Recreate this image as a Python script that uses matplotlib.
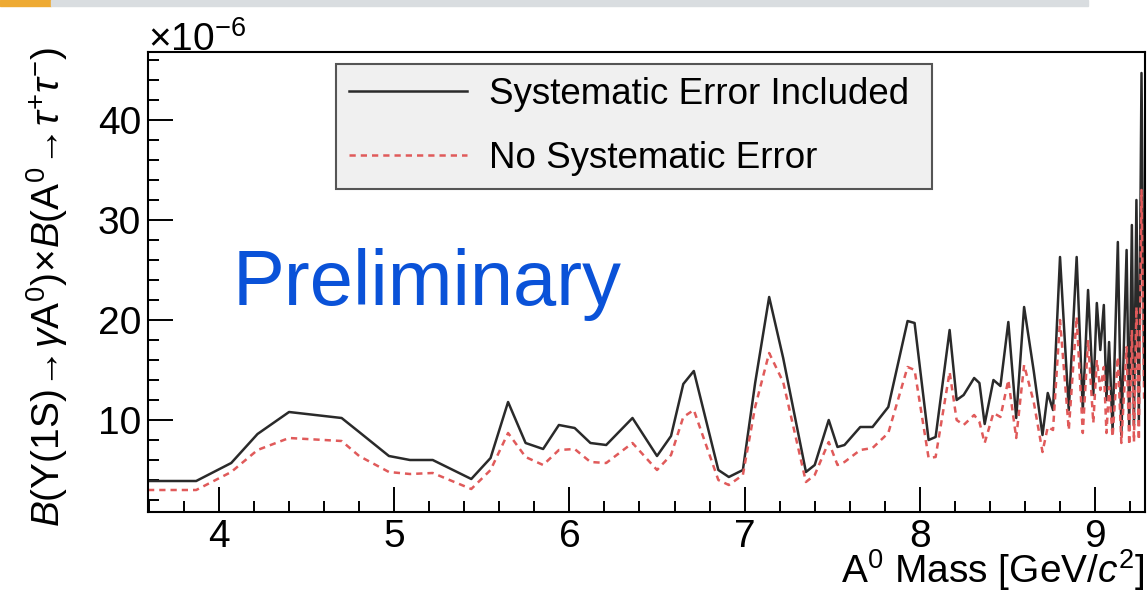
import matplotlib
matplotlib.use('Agg')
import matplotlib.pyplot as plt
from matplotlib.ticker import MultipleLocator
from matplotlib.patches import Rectangle

plt.rcParams['font.family'] = ['Liberation Sans', 'DejaVu Sans']
plt.rcParams['mathtext.fontset'] = 'custom'
plt.rcParams['mathtext.rm'] = 'Liberation Sans'
plt.rcParams['mathtext.it'] = 'Liberation Sans:italic'
plt.rcParams['mathtext.bf'] = 'Liberation Sans:bold'

# A0 mass [GeV/c^2]
mass = [3.595, 3.87, 4.07, 4.22, 4.40, 4.70, 4.80, 4.97, 5.09, 5.22,
        5.44, 5.55, 5.65, 5.75, 5.85, 5.94, 6.03, 6.12, 6.21, 6.36,
        6.50, 6.58, 6.65, 6.71, 6.85, 6.91, 6.99, 7.06, 7.14, 7.22,
        7.35, 7.40, 7.48, 7.53, 7.57, 7.66, 7.73, 7.82, 7.93, 7.97,
        8.05, 8.09, 8.17, 8.21, 8.25, 8.31, 8.34, 8.37, 8.42, 8.46,
        8.505, 8.55, 8.595, 8.65, 8.70, 8.73, 8.76, 8.80, 8.85, 8.895,
        8.93, 8.96, 8.99, 9.01, 9.03, 9.05, 9.065, 9.08, 9.10, 9.13,
        9.15, 9.18, 9.195, 9.21, 9.222, 9.236, 9.25, 9.265, 9.28]

# upper limits, units of 1e-6
sys_included = [3.9, 3.9, 5.7, 8.6, 10.8, 10.2, 8.8, 6.4, 6.0, 6.0,
                4.1, 6.2, 11.8, 7.7, 7.1, 9.5, 9.2, 7.7, 7.5, 10.2,
                6.4, 8.4, 13.6, 14.9, 5.0, 4.3, 5.0, 13.7, 22.3, 16.2,
                4.8, 5.5, 10.0, 7.3, 7.5, 9.3, 9.3, 11.3, 19.9, 19.7,
                8.0, 8.3, 19.0, 12.0, 12.5, 14.2, 13.7, 9.6, 14.0, 13.4,
                19.8, 10.2, 21.3, 14.9, 8.5, 12.7, 11.0, 26.3, 11.0, 26.3,
                11.0, 23.0, 12.5, 21.7, 17.0, 21.5, 12.0, 17.8, 9.0, 27.8,
                8.5, 27.0, 9.0, 29.5, 9.5, 32.0, 10.0, 44.7, 14.0]

no_sys = [3.0, 3.0, 4.8, 7.0, 8.2, 7.9, 6.4, 4.8, 4.6, 4.7,
          3.1, 5.0, 8.7, 6.3, 5.5, 7.0, 7.1, 5.8, 5.7, 7.7,
          5.0, 6.5, 10.3, 11.0, 4.0, 3.5, 4.5, 11.3, 16.7, 13.8,
          3.8, 4.5, 7.8, 5.5, 5.8, 7.0, 7.2, 8.7, 15.3, 15.0,
          6.2, 6.3, 14.8, 10.0, 9.5, 10.5, 9.8, 7.7, 10.7, 10.3,
          14.0, 8.2, 15.5, 11.8, 6.8, 9.3, 9.0, 20.0, 9.0, 20.3,
          8.7, 18.0, 9.7, 16.0, 13.0, 15.3, 8.7, 13.3, 8.3, 16.3,
          7.7, 17.3, 7.5, 19.0, 7.8, 21.3, 8.0, 33.0, 12.0]

labels = ['Systematic Error Included', 'No Systematic Error']

fig = plt.figure(figsize=(11.47, 5.93), dpi=100)

# slide header strip
fig.patches.append(Rectangle((0, 1 - 6 / 593), 51 / 1147, 6 / 593,
                             transform=fig.transFigure, color='#eeaa33', zorder=0))
fig.patches.append(Rectangle((51 / 1147, 1 - 6 / 593), 1037 / 1147, 6 / 593,
                             transform=fig.transFigure, color='#d9dde0', zorder=0))

ax = fig.add_axes([148 / 1147, 81 / 593, 997 / 1147, 460 / 593])

ax.plot(mass, sys_included, color='#2a2a2a', lw=1.8, label=labels[0])
ax.plot(mass, no_sys, color='#e05a5a', lw=1.8, ls=(0, (2.5, 2)), label=labels[1])

ax.set_xlim(3.595, 9.285)
ax.set_ylim(0.8, 46.8)

ax.xaxis.set_major_locator(MultipleLocator(1))
ax.xaxis.set_minor_locator(MultipleLocator(0.2))
ax.yaxis.set_major_locator(MultipleLocator(10))
ax.yaxis.set_minor_locator(MultipleLocator(2))
ax.tick_params(which='both', direction='in', width=1.4, labelsize=28, pad=5)
ax.tick_params(which='major', length=18)
ax.tick_params(which='minor', length=8)
for s in ax.spines.values():
    s.set_linewidth(1.5)

ax.text(0.0, 0.986, r'$\times10^{-6}$', transform=ax.transAxes, fontsize=28,
        ha='left', va='bottom')

ax.set_xlabel(r'A$^{0}$ Mass [GeV/$c^{2}$]', fontsize=28, ha='right', va='baseline')
ax.xaxis.set_label_coords(1.0, -0.154)
ax.set_ylabel(r'$B(\Upsilon(1\mathrm{S})\!\rightarrow\!\gamma \mathrm{A}^{0})\!\times\! B(\mathrm{A}^{0}\!\rightarrow\!\tau^{+}\tau^{-})$',
              fontsize=28, va='center')
ax.yaxis.set_label_coords(-0.101, 0.49)

ax.text(0.085, 0.45, 'Preliminary', transform=ax.transAxes, fontsize=56,
        color='#0a52d8', ha='left', va='baseline')

leg = ax.legend(loc='upper left', bbox_to_anchor=(0.1886, 0.0, 0.598, 0.974),
                mode='expand', borderaxespad=0, fontsize=26.5, handlelength=3.2,
                handletextpad=0.6, labelspacing=0.77, borderpad=0.36,
                fancybox=False, framealpha=1)
leg.get_frame().set_facecolor('#f0f0f0')
leg.get_frame().set_edgecolor('#555555')
leg.get_frame().set_linewidth(1.5)

fig.savefig('out.png', dpi=100)
